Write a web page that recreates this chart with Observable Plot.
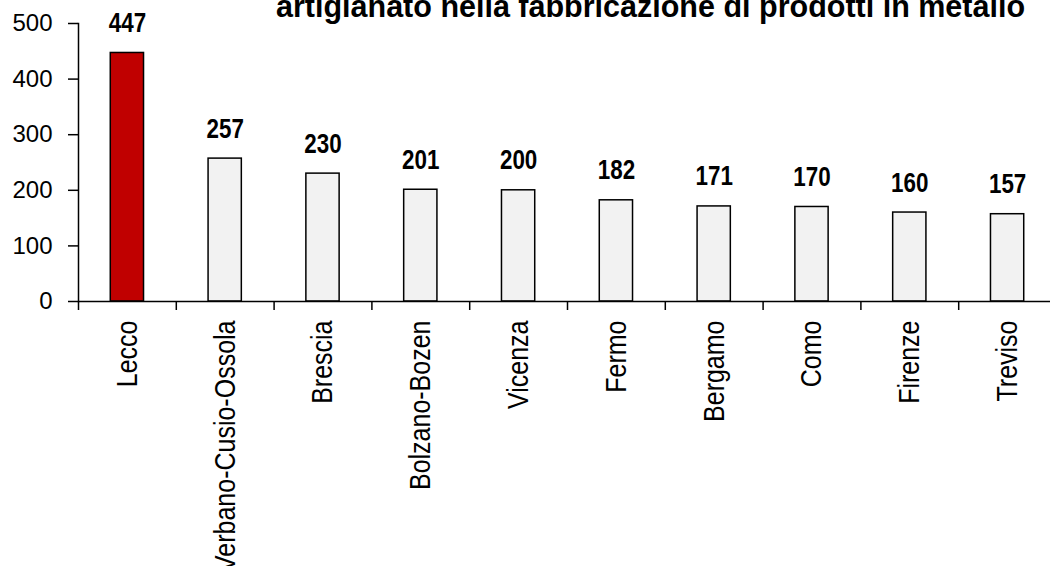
<!DOCTYPE html>
<html>
<head>
<meta charset="utf-8">
<script src="https://cdn.jsdelivr.net/npm/d3@7"></script>
<script src="https://cdn.jsdelivr.net/npm/@observablehq/plot@0.6"></script>
<style>
  html, body { margin: 0; padding: 0; background: #fff; overflow: hidden; }
  #wrap { position: relative; width: 1050px; height: 566px; }
  #title { position: absolute; left: 276px; top: -9px; white-space: nowrap;
           font-family: "Liberation Sans", Arial, sans-serif; font-weight: bold;
           font-size: 30.5px; line-height: 31px; color: #000; }
</style>
</head>
<body>
<div id="wrap">
  <div id="chart"></div>
  <div id="title">artigianato nella fabbricazione di prodotti in metallo</div>
</div>
<script>
const provinces = ["Lecco", "Verbano-Cusio-Ossola", "Brescia", "Bolzano-Bozen", "Vicenza", "Fermo", "Bergamo", "Como", "Firenze", "Treviso"];
const values = [447, 257, 230, 201, 200, 182, 171, 170, 160, 157];
const highlight = ["Lecco"];
const yTicks = [0, 100, 200, 300, 400, 500];

const data = provinces.map((p, i) => ({province: p, value: values[i], hi: highlight.includes(p)}));

const xRange = [78, 1056];
const step = (xRange[1] - xRange[0]) / provinces.length;
const pxPerUnit = (301 - 23) / 500;

const chart = Plot.plot({
  width: 1050,
  height: 566,
  marginTop: 23,
  marginBottom: 265,
  marginLeft: 78,
  marginRight: 0,
  style: {fontFamily: "'Liberation Sans', Arial, sans-serif", color: "#000", background: "#fff", overflow: "hidden"},
  x: {domain: provinces, range: xRange, paddingInner: 0.66, paddingOuter: 0.33, round: false, label: null},
  y: {domain: [0, 500], label: null},
  marks: [
    Plot.barY(data, {x: "province", y: "value", fill: d => d.hi ? "#C00000" : "#F2F2F2", stroke: "#000", strokeWidth: 1.5}),
    Plot.ruleY([0], {stroke: "#000", strokeWidth: 1.5}),
    Plot.frame({anchor: "left", stroke: "#000", strokeWidth: 1.5}),
    Plot.ruleX(provinces, {x: d => d, dx: -step / 2, y1: 0, y2: -9 / pxPerUnit, stroke: "#000", strokeWidth: 1.5}),
    Plot.axisY({ticks: yTicks, tickSize: 10, tickPadding: 16, fontSize: 24, tickFormat: d => String(d), strokeWidth: 1.5, label: null}),
    Plot.axisX({tickRotate: -90, tickSize: 0, tickPadding: 19, fontSize: 25, label: null}),
    Plot.text(data, {x: "province", y: "value", text: d => String(d.value), lineAnchor: "bottom", dy: -21,
      fontSize: 28, fontWeight: "bold", fill: "#000"})
  ]
});
document.getElementById("chart").appendChild(chart);

// condense the bold value labels horizontally, like a narrow font
d3.select(chart).selectAll('g[aria-label="text"] text').each(function() {
  const b = this.getBBox();
  const cx = b.x + b.width / 2;
  const t = this.getAttribute("transform") || "";
  this.setAttribute("transform", `${t} translate(${cx},0) scale(0.8,1) translate(${-cx},0)`);
});
// make rotated category labels a bit taller (narrow-font look, stretched)
d3.select(chart).selectAll('g[aria-label="x-axis tick label"] text').each(function() {
  const b = this.getBBox();
  const cy = b.y + b.height / 2;
  const t = this.getAttribute("transform") || "";
  this.setAttribute("transform", `${t} translate(0,${cy}) scale(1,1.15) translate(0,${-cy})`);
});
</script>
</body>
</html>
